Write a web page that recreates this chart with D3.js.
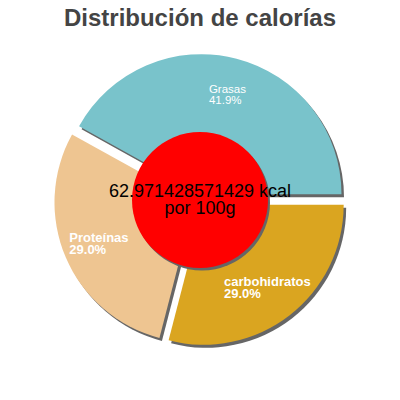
<!DOCTYPE html>
<html>
<head>
<meta charset="utf-8">
<script src="https://cdn.jsdelivr.net/npm/d3@7"></script>
<style>
  body { margin: 0; background: #fff; }
  text { font-family: "Liberation Sans", Arial, sans-serif; }
</style>
</head>
<body>
<svg id="chart" width="400" height="400"></svg>
<script>
// data
var categories = ["Grasas", "carbohidratos", "Proteínas"];
var percents = [41.9, 29.0, 29.0];
var colors = ["#79c3cb", "#daa520", "#eec591"];
var kcalText = ["62.971428571429 kcal", "por 100g"];
var title = "Distribución de calorías";

var width = 400, height = 400;
var cx = 200, cy = 200;
var radius = 140;
var slicedOffset = 6;

var svg = d3.select("#chart");

svg.append("text")
  .attr("x", width / 2)
  .attr("y", 26)
  .attr("text-anchor", "middle")
  .style("font-size", "24px")
  .style("font-weight", "bold")
  .style("fill", "#444")
  .text(title);

var data = categories.map(function(c, i) { return { name: c, value: percents[i] }; });

// carbohidratos starts at 3 o'clock
var start = Math.PI / 2 - percents[0] / d3.sum(percents) * 2 * Math.PI;
var pie = d3.pie()
  .sort(null)
  .value(function(d) { return d.value; })
  .startAngle(start)
  .endAngle(start + 2 * Math.PI);

var arc = d3.arc().innerRadius(0).outerRadius(radius);
var arcs = pie(data);

function offset(d, r) {
  var a = (d.startAngle + d.endAngle) / 2;
  return [Math.sin(a) * r, -Math.cos(a) * r];
}

var g = svg.append("g").attr("transform", "translate(" + cx + "," + cy + ")");

// shadows first
g.selectAll("path.shadow")
  .data(arcs)
  .enter().append("path")
  .attr("class", "shadow")
  .attr("d", arc)
  .attr("fill", "#666")
  .attr("transform", function(d) {
    var o = offset(d, slicedOffset);
    return "translate(" + (o[0] + 2.5) + "," + (o[1] + 3) + ")";
  });

g.selectAll("path.slice")
  .data(arcs)
  .enter().append("path")
  .attr("class", "slice")
  .attr("d", arc)
  .attr("fill", function(d, i) { return colors[i]; })
  .attr("transform", function(d) {
    var o = offset(d, slicedOffset);
    return "translate(" + o[0] + "," + o[1] + ")";
  });

// labels
arcs.forEach(function(d, i) {
  var o = offset(d, slicedOffset);
  var p = offset(d, 104);
  var lx = o[0] + p[0], ly = o[1] + p[1];
  var big = i !== 0;
  var fs = big ? 13 : 11.5;
  var lab = g.append("text")
    .style("font-size", fs + "px")
    .style("font-weight", big ? "bold" : "normal")
    .style("fill", "#fff");
  lab.append("tspan").attr("x", 0).attr("y", ly - 1).text(d.data.name);
  lab.append("tspan").attr("x", 0).attr("y", ly + (big ? 11 : 10)).text(d.data.value.toFixed(1) + "%");
  var w = lab.node().getBBox().width;
  lab.selectAll("tspan").attr("x", lx - w / 2);
});

// center disc
var innerR = 68;
g.append("circle").attr("cx", 2).attr("cy", 2.5).attr("r", innerR).attr("fill", "#666");
g.append("circle").attr("cx", 0).attr("cy", 0).attr("r", innerR).attr("fill", "#ff0000");

g.append("text")
  .attr("text-anchor", "middle")
  .style("font-size", "18px")
  .style("fill", "#000")
  .selectAll("tspan")
  .data(kcalText)
  .enter().append("tspan")
  .attr("x", 0)
  .attr("y", function(d, i) { return -3.5 + i * 17; })
  .text(function(d) { return d; });
</script>
</body>
</html>
